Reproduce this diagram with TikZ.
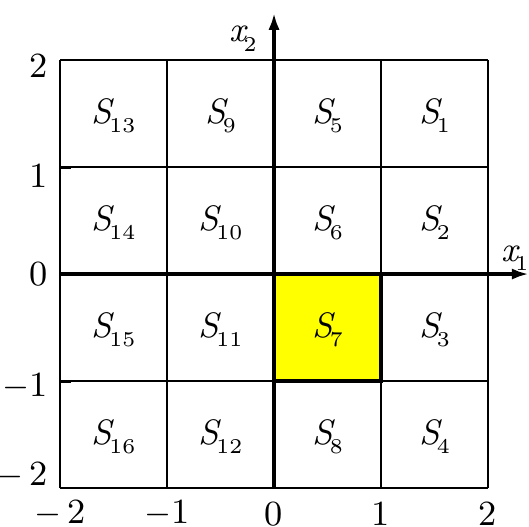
\documentclass[tikz,border=0pt]{standalone}
\usetikzlibrary{arrows.meta}
\newcommand\Slab[2]{{\itshape #1}\kern-0.08em\raisebox{-0.6ex}{\fontsize{5.6}{6}\selectfont #2}}
\tikzset{
  gridline/.style={line width=0.55pt},
  axisline/.style={line width=0.9pt,-{Latex[length=4.5pt,width=3pt]}},
  cellbox/.style={line width=1.2pt,fill={rgb,255:red,255;green,255;blue,0}},
  lbl/.style={font=\rmfamily\fontsize{9.4}{10}\selectfont,inner sep=0pt},
}
\begin{document}
\begin{tikzpicture}[x=1cm,y=1cm]
\useasboundingbox (-2.561,-2.364) rectangle (2.383,2.561);
\fill[white] (-2.561,-2.364) rectangle (2.383,2.561);
\draw[cellbox] (0,-1) rectangle (1,0);
\draw[gridline] (-2,-2) grid (2,2);
\draw[cellbox,fill=none] (0,-1) rectangle (1,0);
\draw[line width=0.8pt] (-2,1) -- (-1.9,1) (-2,-1) -- (-1.9,-1);
\coordinate (xs) at (-2,0);
\coordinate (xe) at (2.38,0);
\coordinate (ys) at (0,-2);
\coordinate (ye) at (0,2.44);
\draw[axisline] (xs) -- (xe);
\draw[axisline] (ys) -- (ye);
\node[lbl] (x1) at (2.25,0.15) {\Slab{x}{1}};
\node[lbl] (x2) at (-0.29,2.2) {\Slab{x}{2}};
% left tick labels
\node[lbl,anchor=east] (l2) at (-2.11,1.95) {2};
\node[lbl,anchor=east] (l1) at (-2.11,0.92) {1};
\node[lbl,anchor=east] (l0) at (-2.11,0) {0};
\node[lbl,anchor=east] (lm1) at (-2.11,-1.05) {$-$1};
\node[lbl,anchor=east] (lm2) at (-2.11,-1.88) {$-$\,2};
% bottom tick labels
\node[lbl] (bm2) at (-2,-2.24) {$-$\,2};
\node[lbl] (bm1) at (-1,-2.24) {$-$1};
\node[lbl] (b0) at (0,-2.24) {0};
\node[lbl] (b1) at (1,-2.24) {1};
\node[lbl] (b2) at (2,-2.24) {2};
% cell labels
\node[lbl] (s13) at (-1.5,1.48) {\Slab{S}{13}};
\node[lbl] (s9) at (-0.5,1.48) {\Slab{S}{9}};
\node[lbl] (s5) at (0.5,1.48) {\Slab{S}{5}};
\node[lbl] (s1) at (1.5,1.48) {\Slab{S}{1}};
\node[lbl] (s14) at (-1.5,0.48) {\Slab{S}{14}};
\node[lbl] (s10) at (-0.5,0.48) {\Slab{S}{10}};
\node[lbl] (s6) at (0.5,0.48) {\Slab{S}{6}};
\node[lbl] (s2) at (1.5,0.48) {\Slab{S}{2}};
\node[lbl] (s15) at (-1.5,-0.52) {\Slab{S}{15}};
\node[lbl] (s11) at (-0.5,-0.52) {\Slab{S}{11}};
\node[lbl] (s7) at (0.5,-0.52) {\Slab{S}{7}};
\node[lbl] (s3) at (1.5,-0.52) {\Slab{S}{3}};
\node[lbl] (s16) at (-1.5,-1.52) {\Slab{S}{16}};
\node[lbl] (s12) at (-0.5,-1.52) {\Slab{S}{12}};
\node[lbl] (s8) at (0.5,-1.52) {\Slab{S}{8}};
\node[lbl] (s4) at (1.5,-1.52) {\Slab{S}{4}};
\end{tikzpicture}
\end{document}
